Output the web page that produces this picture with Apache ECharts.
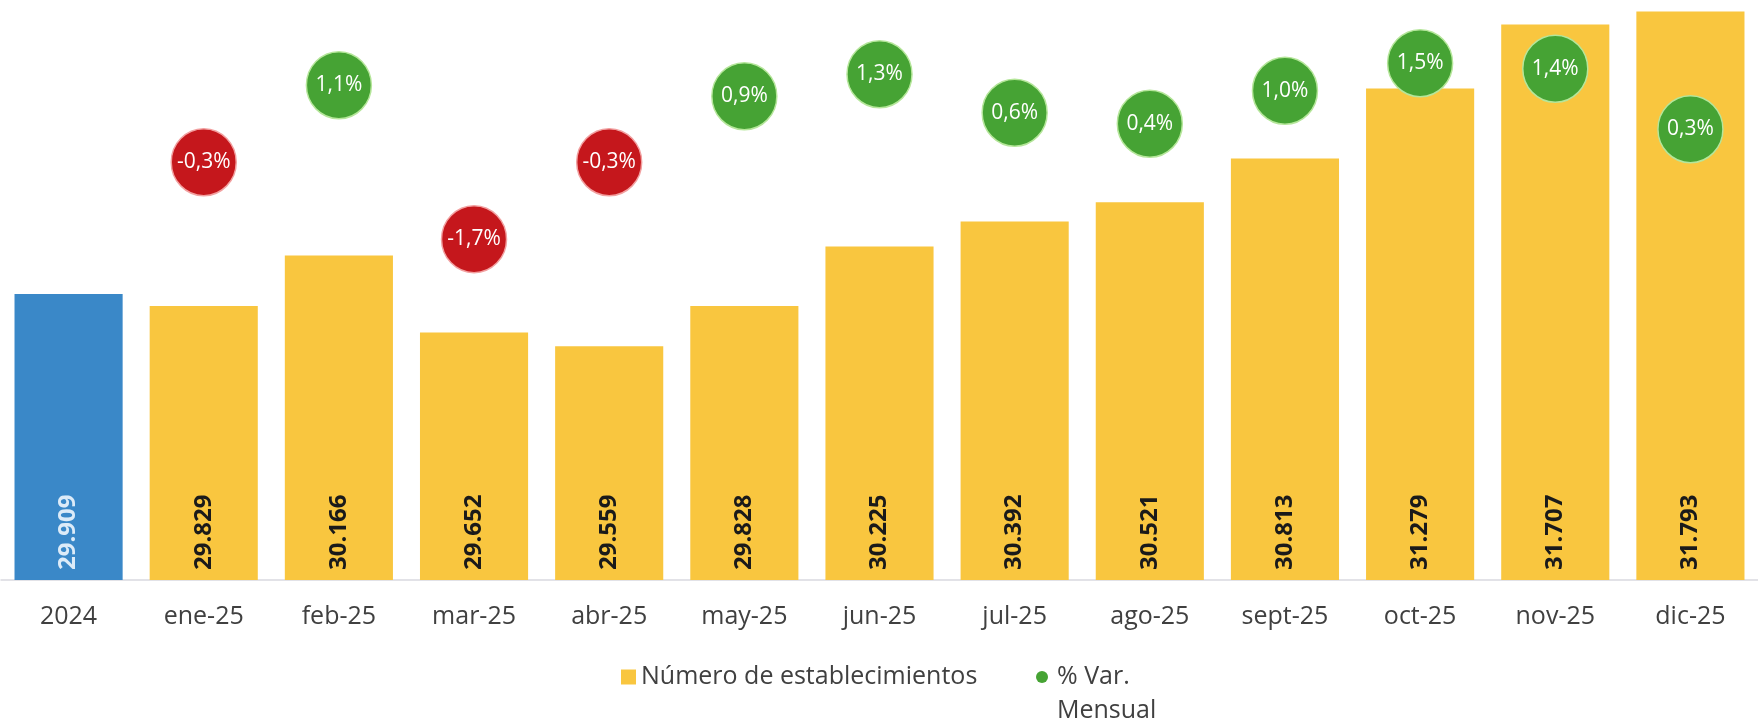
<!DOCTYPE html>
<html>
<head>
<meta charset="utf-8">
<script src="https://cdn.jsdelivr.net/npm/echarts@6/dist/echarts.min.js"></script>
<style>
html,body{margin:0;padding:0;background:#fff;}
#chart{width:1758px;height:724px;}
</style>
</head>
<body>
<div id="chart"></div>
<script>
const categories = ['2024','ene-25','feb-25','mar-25','abr-25','may-25','jun-25','jul-25','ago-25','sept-25','oct-25','nov-25','dic-25'];
const establecimientos = [29909,29829,30166,29652,29559,29828,30225,30392,30521,30813,31279,31707,31793];
const varMensual = [null,-0.3,1.1,-1.7,-0.3,0.9,1.3,0.6,0.4,1.0,1.5,1.4,0.3];
const seriesNames = ['Número de establecimientos','% Var. Mensual'];

const FONT = 'Open Sans';
const YELLOW = '#F9C63F';
const BLUE = '#3A88C8';
const GREEN = '#46A334';
const RED = '#C5171C';

const barData = establecimientos.map((v, i) => i === 0
  ? {value: v, itemStyle: {color: BLUE}, label: {color: '#dcebf8'}}
  : {value: v});
const scatterData = varMensual.map(v => v === null ? '-' : {
  value: v,
  itemStyle: {color: v < 0 ? RED : GREEN, borderColor: v < 0 ? '#f2a0a0' : '#b5e69a', borderWidth: 1.5}
});

const chart = echarts.init(document.getElementById('chart'));
chart.setOption({
  animation: false,
  backgroundColor: '#fff',
  textStyle: {fontFamily: FONT},
  grid: {left: 1, width: 1769, top: 0, bottom: 144, containLabel: false},
  xAxis: {
    type: 'category',
    data: categories,
    axisLine: {onZero: false, lineStyle: {color: '#d9d9e0', width: 1.5}},
    axisTick: {show: false},
    axisLabel: {color: '#404040', fontSize: 25, fontFamily: FONT, margin: 22, lineHeight: 30, interval: 0}
  },
  yAxis: [
    {type: 'value', min: 28000, max: 31870, show: false, splitLine: {show: false}},
    {type: 'value', min: -7.9, max: 2.65, show: false, splitLine: {show: false}}
  ],
  legend: [
    {
      data: [seriesNames[0]],
      left: 621, top: 660, padding: 0,
      itemWidth: 15, itemHeight: 15, icon: 'rect',
      textStyle: {color: '#404040', fontSize: 25, fontFamily: FONT, lineHeight: 34}
    },
    {
      data: [seriesNames[1]],
      left: 1036, top: 626, padding: 0,
      itemWidth: 12, itemHeight: 12, icon: 'circle',
      formatter: () => ' \n% Var.\nMensual',
      textStyle: {color: '#404040', fontSize: 25, fontFamily: FONT, lineHeight: 34, padding: [0,0,0,4]}
    }
  ],
  series: [
    {
      name: seriesNames[0],
      type: 'bar',
      data: barData,
      barCategoryGap: '20%',
      itemStyle: {color: YELLOW},
      label: {
        show: true,
        position: 'insideBottom',
        rotate: 90,
        align: 'left',
        verticalAlign: 'middle',
        distance: 10,
        fontSize: 24,
        fontWeight: 'bold',
        fontFamily: FONT,
        color: '#1a1a1a',
        formatter: p => String(p.value).replace(/\B(?=(\d{3})+(?!\d))/g, '.')
      }
    },
    {
      name: seriesNames[1],
      type: 'scatter',
      yAxisIndex: 1,
      data: scatterData,
      symbol: 'circle',
      symbolSize: [65, 67],
      itemStyle: {color: GREEN, opacity: 1},
      label: {
        show: true,
        position: 'inside',
        color: '#ffffff',
        fontSize: 21,
        fontFamily: FONT,
        formatter: p => p.value.toFixed(1).replace('.', ',') + '%'
      },
      z: 5
    }
  ]
});
</script>
</body>
</html>
